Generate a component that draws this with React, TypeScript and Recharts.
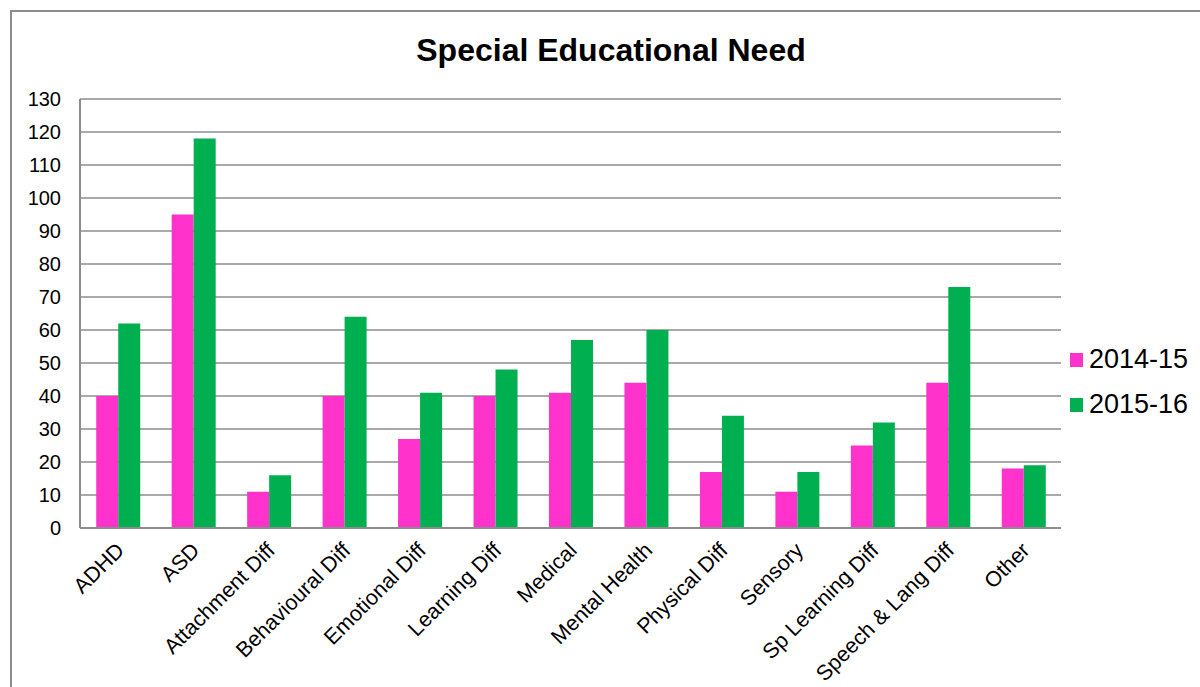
import React from 'react';
import { BarChart, Bar, XAxis, YAxis, CartesianGrid } from 'recharts';

const categories = [
  'ADHD', 'ASD', 'Attachment Diff', 'Behavioural Diff', 'Emotional Diff', 'Learning Diff',
  'Medical', 'Mental Health', 'Physical Diff', 'Sensory', 'Sp Learning Diff', 'Speech & Lang Diff', 'Other',
];
const values1415 = [40, 95, 11, 40, 27, 40, 41, 44, 17, 11, 25, 44, 18];
const values1516 = [62, 118, 16, 64, 41, 48, 57, 60, 34, 17, 32, 73, 19];
const yTicks = [0, 10, 20, 30, 40, 50, 60, 70, 80, 90, 100, 110, 120, 130];

const seriesInfo = [
  { key: 'y1415', name: '2014-15', color: '#FF33CC' },
  { key: 'y1516', name: '2015-16', color: '#00B050' },
];

const data = categories.map((c, i) => ({ name: c, y1415: values1415[i], y1516: values1516[i] }));

const FONT = '"Liberation Sans", Arial, sans-serif';

const XTick = (props: any) => {
  const { x, y, payload } = props;
  return (
    <g transform={`translate(${x - 3},${y + 5})`}>
      <text
        x={0}
        y={0}
        dy="0.7em"
        textAnchor="end"
        transform="rotate(-45)"
        fontSize={21.5}
        fontFamily={FONT}
        fill="#000"
      >
        {payload.value}
      </text>
    </g>
  );
};

export default function App() {
  return (
    <div style={{ position: 'absolute', left: 0, top: 0, width: 1200, height: 687, overflow: 'hidden', background: '#fff' }}>
      <div
        style={{
          position: 'absolute', left: 10, top: 10, width: 1250, height: 740,
          border: '2px solid #8c8c8c', boxSizing: 'border-box',
        }}
      />
      <div
        style={{
          position: 'absolute', left: 0, top: 31, width: 1222, textAlign: 'center',
          fontFamily: FONT, fontWeight: 'bold', fontSize: 32, color: '#000', lineHeight: '38px',
        }}
      >
        Special Educational Need
      </div>
      <div style={{ position: 'absolute', left: 0, top: 0 }}>
        <BarChart
          width={1200}
          height={687}
          data={data}
          margin={{ top: 99, right: 139, bottom: 0, left: 0 }}
          barCategoryGap="21.5%"
          barGap={0}
        >
          <CartesianGrid vertical={false} stroke="#8c8c8c" strokeWidth={1.5} />
          <XAxis
            dataKey="name"
            interval={0}
            height={159}
            tickLine={false}
            axisLine={{ stroke: '#8c8c8c', strokeWidth: 2 }}
            tick={<XTick />}
          />
          <YAxis
            width={80}
            domain={[0, 130]}
            ticks={yTicks}
            interval={0}
            tickLine={false}
            tickSize={0}
            tickMargin={19}
            axisLine={{ stroke: '#8c8c8c', strokeWidth: 2 }}
            tick={{ fontSize: 20, fontFamily: FONT, fill: '#000' }}
          />
          {seriesInfo.map((s) => (
            <Bar key={s.key} dataKey={s.key} name={s.name} fill={s.color} isAnimationActive={false} />
          ))}
        </BarChart>
      </div>
      <div style={{ position: 'absolute', left: 1070, top: 337, fontFamily: FONT, fontSize: 27, color: '#000' }}>
        {seriesInfo.map((s) => (
          <div key={s.key} style={{ display: 'flex', alignItems: 'center', height: 45 }}>
            <span style={{ display: 'inline-block', width: 13, height: 14, background: s.color, marginRight: 6 }} />
            <span>{s.name}</span>
          </div>
        ))}
      </div>
    </div>
  );
}
